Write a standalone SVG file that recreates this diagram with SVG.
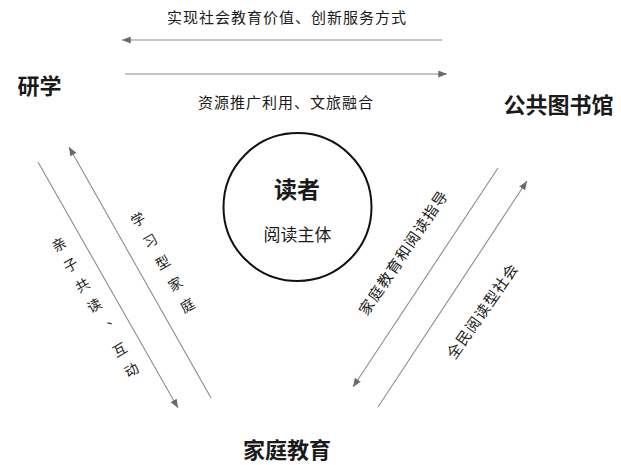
<svg xmlns="http://www.w3.org/2000/svg" width="621" height="465" viewBox="0 0 621 465">
<style>
.t{font-family:"Liberation Sans","Noto Sans CJK SC",sans-serif;fill:#1a1a1a;dominant-baseline:central}
.b{font-weight:bold;font-size:22px}
.m{font-size:15px;letter-spacing:1px}
.v{writing-mode:vertical-rl;font-size:14px}
.ln{stroke:#8c8c8c;stroke-width:1.1;fill:none;marker-end:url(#ah)}
</style>
<defs>
<marker id="ah" viewBox="0 0 10 8" markerWidth="9" markerHeight="7" refX="10" refY="4" orient="auto" markerUnits="userSpaceOnUse">
<path d="M0,0 L10,4 L0,8 Z" fill="#6a6a6a"/>
</marker>
</defs>
<rect width="621" height="465" fill="#fff"/>
<g id="connectors">
<path class="ln" d="M442,40 L122,40"/>
<path class="ln" d="M125,74 L447,74"/>
<path class="ln" d="M38,162 L178,408"/>
<path class="ln" d="M211,398 L69,147"/>
<path class="ln" d="M498,168 L353,387"/>
<path class="ln" d="M378,407 L527,181"/>
<text class="t m" x="287" y="17" text-anchor="middle">实现社会教育价值、创新服务方式</text>
<text class="t m" x="286" y="102" text-anchor="middle">资源推广利用、文旅融合</text>
<g transform="translate(133.5,213.9) rotate(-30)"><text class="t v" x="0" y="0" style="letter-spacing:10.8px">学习型家庭</text></g>
<g transform="translate(54.5,238.9) rotate(-30)"><text class="t v" x="0" y="0" style="letter-spacing:9.5px">亲子共读<tspan style="letter-spacing:0"> </tspan>、互动</text></g>
<g transform="translate(403.5,252.5) rotate(-56)"><text class="t" x="0" y="0" text-anchor="middle" style="font-size:15px;letter-spacing:1.3px">家庭教育和阅读指导</text></g>
<g transform="translate(482.5,311) rotate(-55)"><text class="t" x="0" y="0" text-anchor="middle" style="font-size:15px;letter-spacing:1.1px">全民阅读型社会</text></g>
</g>
<g id="yanxue"><text class="t b" x="39.5" y="86" text-anchor="middle">研学</text></g>
<g id="library"><text class="t b" x="558.5" y="105" text-anchor="middle">公共图书馆</text></g>
<g id="reader">
<circle cx="297.5" cy="207" r="74" fill="none" stroke="#111" stroke-width="2"/>
<text class="t b" x="297" y="190" text-anchor="middle" style="font-size:23px">读者</text>
<text class="t" x="297.5" y="235" text-anchor="middle" style="font-size:17px">阅读主体</text>
</g>
<g id="family"><text class="t b" x="287" y="450" text-anchor="middle">家庭教育</text></g>
</svg>
